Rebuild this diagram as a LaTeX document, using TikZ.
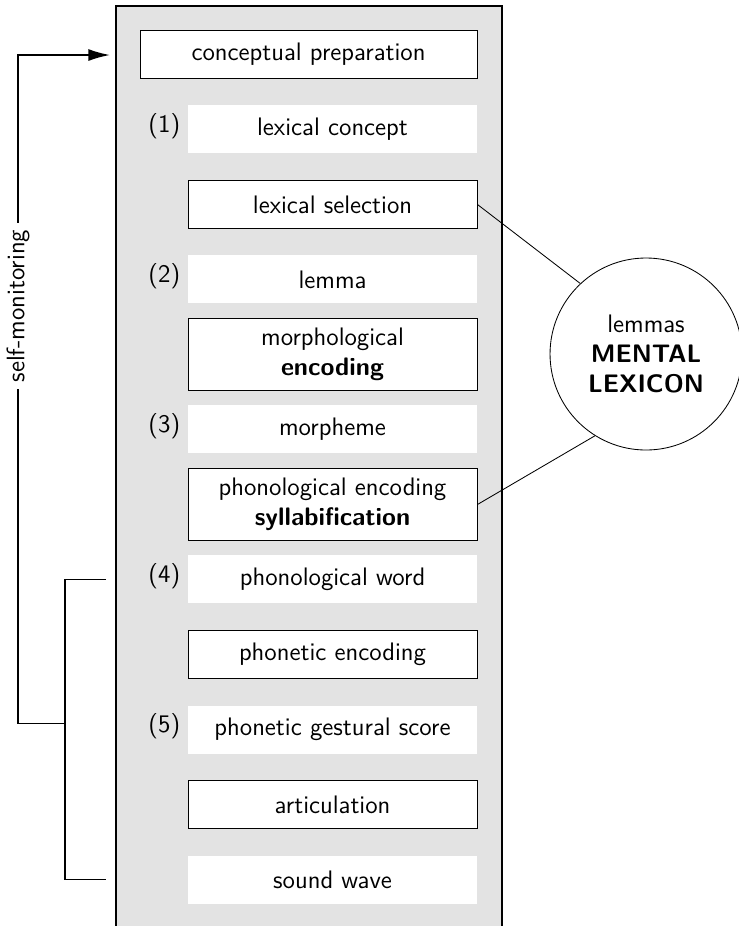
\documentclass[tikz,border=0pt]{standalone}
\usetikzlibrary{arrows.meta}
\begin{document}
\begin{tikzpicture}[
	font=\sffamily\large,
	stage/.style={draw, thin, fill=white, minimum width=4.817cm, minimum height=0.8cm, align=center, inner sep=2pt},
	level/.style={fill=white, minimum width=4.817cm, minimum height=0.8cm},
	num/.style={anchor=east, yshift=1.5pt},
]
	\useasboundingbox (0, 0) rectangle (12.3, -15.433);
	\draw[thick, fill=gray!22] (1.933, -0.1) rectangle (8.367, -15.6);

	\node[stage, minimum width=5.617cm] (prep) at (5.142, -0.908) {conceptual preparation};
	\node[level] (concept) at (5.542, -2.158) {lexical concept};
	\node[stage] (select) at (5.542, -3.408) {lexical selection};
	\node[level] (lemma) at (5.542, -4.658) {lemma};
	\node[stage, minimum height=1.2cm] (morph) at (5.542, -5.908) {morphological\\ \textbf{encoding}};
	\node[level] (morpheme) at (5.542, -7.158) {morpheme};
	\node[stage, minimum height=1.2cm] (phon) at (5.542, -8.408) {phonological encoding\\ \textbf{syllabification}};
	\node[level] (word) at (5.542, -9.658) {phonological word};
	\node[stage] (phonetic) at (5.542, -10.908) {phonetic encoding};
	\node[level] (score) at (5.542, -12.158) {phonetic gestural score};
	\node[stage] (artic) at (5.542, -13.408) {articulation};
	\node[level] (wave) at (5.542, -14.658) {sound wave};

	\node[num] (n1) at (concept.west) {(1)};
	\node[num] (n2) at (lemma.west) {(2)};
	\node[num] (n3) at (morpheme.west) {(3)};
	\node[num] (n4) at (word.west) {(4)};
	\node[num] (n5) at (score.west) {(5)};

	\node[draw, thin, circle, minimum size=3.2cm, align=center] (lexicon) at (10.767, -5.9) {lemmas\\ \textbf{MENTAL}\\ \textbf{LEXICON}};
	\draw[thin] (select.east) -- (lexicon.133);
	\draw[thin] (phon.east) -- (lexicon.238);

	% self-monitoring loop
	\coordinate (loop) at (0.3, -12.06);
	\coordinate (join) at (1.083, -12.06);
	\coordinate (top) at (0.3, -0.917);
	\coordinate (in) at (1.833, -0.917);
	\coordinate (b1) at (1.767, -9.658);
	\coordinate (b2) at (1.767, -14.658);
	\draw[thick] (b1) -| (join) |- (b2);
	\draw[thick, -{Latex[length=3.6mm, width=2mm]}] (join) -- (loop) -- (top) -- (in);
	\node[fill=white, rotate=90] (monitor) at (0.3, -5.1) {self-monitoring};
\end{tikzpicture}
\end{document}
